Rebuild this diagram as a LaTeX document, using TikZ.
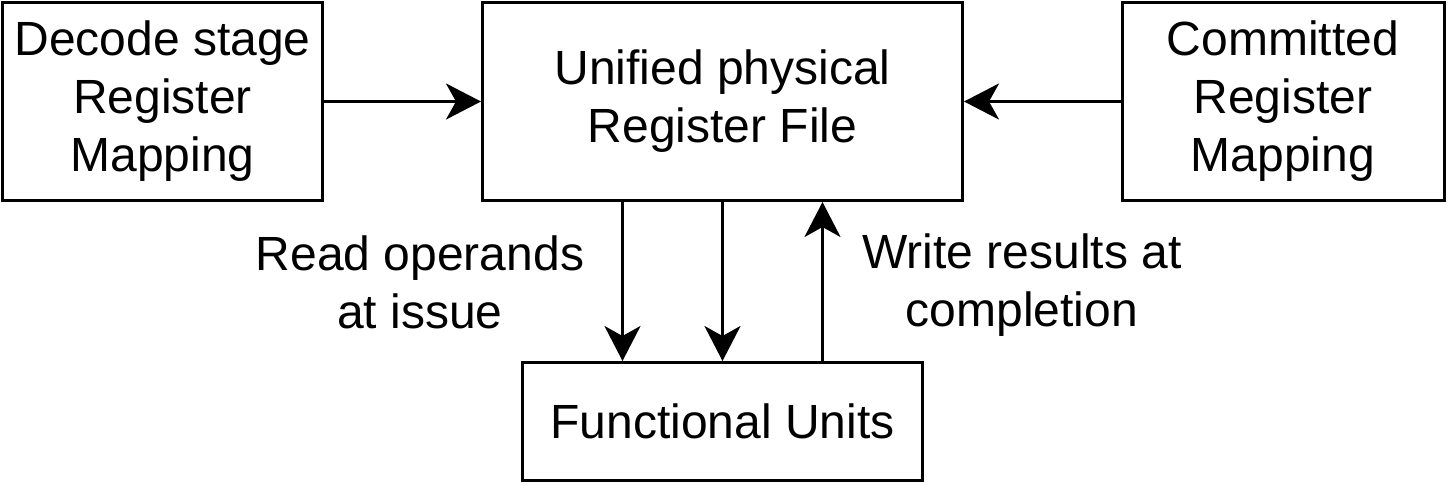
\documentclass[tikz,border=0pt]{standalone}
\usepackage{fontspec}
\setmainfont{Liberation Sans}
\usetikzlibrary{arrows.meta,calc}
\begin{document}
\begin{tikzpicture}[x=1pt,y=1pt,
  box/.style={draw,line width=1.5pt,inner sep=0pt,align=center,font=\fontsize{24}{29}\selectfont},
  lbl/.style={inner sep=0pt,align=center,font=\fontsize{24}{29}\selectfont},
  arr/.style={line width=1.5pt,-{Stealth[length=17.5pt,width=18pt,inset=5pt]}}]
\useasboundingbox (0,0) rectangle (724,-242);
\node[box,minimum width=160pt,minimum height=99pt] (dec) at (81.25,-50.75) {Decode stage\\Register\\Mapping};
\node[box,minimum width=240pt,minimum height=99pt] (prf) at (361.25,-50.75) {Unified physical\\Register File};
\node[box,minimum width=161pt,minimum height=99pt] (com) at (641.5,-50.75) {Committed\\Register\\Mapping};
\node[box,minimum width=200pt,minimum height=59pt] (fu) at (361.25,-210.75) {Functional Units};
\draw[arr] (dec.east) -- (prf.west);
\draw[arr] (com.west) -- (prf.east);
\draw[arr] ([xshift=-50pt]prf.south) -- ([xshift=-50pt]fu.north);
\draw[arr] (prf.south) -- (fu.north);
\draw[arr] ([xshift=50pt]fu.north) -- ([xshift=50pt]prf.south);
\node[lbl] (rd) at (210,-141) {Read operands\\at issue};
\node[lbl] (wr) at (511,-142.5) {Write results at\\completion};
\end{tikzpicture}
\end{document}
